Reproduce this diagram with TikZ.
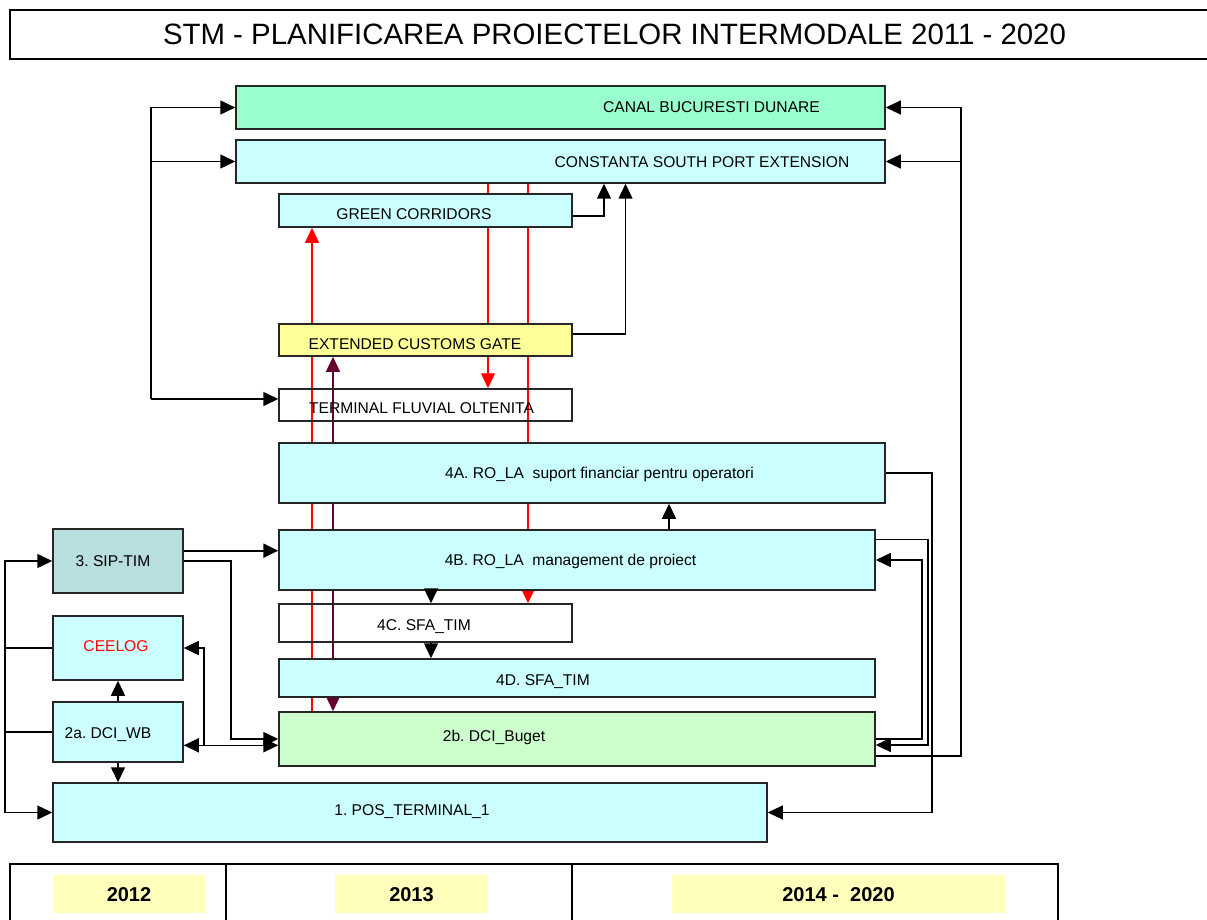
\documentclass[tikz,border=0pt]{standalone}
\usepackage{fontspec}
\setmainfont{Liberation Sans}
\usetikzlibrary{positioning}
\usetikzlibrary{arrows.meta}
\usetikzlibrary{backgrounds}

\definecolor{mint}{HTML}{99FFCC}
\definecolor{pale}{HTML}{CCFFFF}
\definecolor{lemon}{HTML}{FFFF99}
\definecolor{slate}{HTML}{B9DEE0}
\definecolor{leaf}{HTML}{CCFFCC}
\definecolor{cream}{HTML}{FFFFBB}
\definecolor{plum}{HTML}{660033}
\frenchspacing

\begin{document}
\begin{tikzpicture}
  [x = 1pt, y = -1pt,
   box/.style = {draw = black!85, line width = 1.5pt, inner sep = 0pt},
   txt/.style = {inner sep = 0pt, text height = 11pt, text depth = 0pt,
                 font = \fontsize{15.6pt}{18pt}\selectfont},
   year/.style = {fill = cream, inner sep = 0pt, minimum height = 38pt,
                  text height = 14.3pt, text depth = 0pt,
                  font = \bfseries\fontsize{20pt}{24pt}\selectfont},
   head/.style = {Triangle[length = 15pt, width = 14pt]},
   arr/.style = {-{Triangle[length = 15pt, width = 14pt]}},
   arr2/.style = {{Triangle[length = 15pt, width = 14pt]}-{Triangle[length = 15pt, width = 14pt]}},
   link/.style = {arr, line width = 1.5pt},
   thin link/.style = {arr, line width = 1.1pt},
   red link/.style = {arr, red, line width = 1.3pt},
   plum link/.style = {arr2, plum, line width = 1.3pt}]
  \useasboundingbox (0, 0) rectangle (1207, 920);

  % title
  \draw [line width = 2pt] (1215, 10) -- (10, 10) -- (10, 59) -- (1215, 59);
  \node [inner sep = 0pt, text height = 21pt, text depth = 0pt,
         font = \fontsize{29.4pt}{35pt}\selectfont] (title) at (614.5, 34)
        {STM - PLANIFICAREA PROIECTELOR INTERMODALE 2011 - 2020};

  % projects
  \node [box, fill = mint, minimum width = 649pt, minimum height = 43pt] (canal) at (560.5, 107.5) {};
  \node [box, fill = pale, minimum width = 649pt, minimum height = 43pt] (constanta) at (560.5, 161.5) {};
  \node [box, fill = pale, minimum width = 293pt, minimum height = 33pt] (green) at (425.5, 210.5) {};
  \node [box, fill = lemon, minimum width = 293pt, minimum height = 32pt] (customs) at (425.5, 340) {};
  \node [box, minimum width = 293pt, minimum height = 32pt] (oltenita) at (425.5, 405) {};
  \node [box, fill = pale, minimum width = 606pt, minimum height = 60pt] (rolaA) at (582, 473) {};
  \node [box, fill = pale, minimum width = 596pt, minimum height = 60pt] (rolaB) at (577, 560) {};
  \node [box, minimum width = 293pt, minimum height = 38pt] (sfaC) at (425.5, 623) {};
  \node [box, fill = pale, minimum width = 596pt, minimum height = 38pt] (sfaD) at (577, 678) {};
  \node [box, fill = leaf, minimum width = 596pt, minimum height = 54pt] (buget) at (577, 739) {};
  \node [box, fill = slate, minimum width = 130pt, minimum height = 64pt] (sip) at (118, 561) {};
  \node [box, fill = pale, minimum width = 130pt, minimum height = 64pt] (ceelog) at (118, 648) {};
  \node [box, fill = pale, minimum width = 130pt, minimum height = 60pt] (dciwb) at (118, 732) {};
  \node [box, fill = pale, minimum width = 714pt, minimum height = 59pt] (pos) at (410, 812.5) {};

  \node [txt] (canaltxt) at (711.5, 107) {CANAL BUCURESTI DUNARE};
  \node [txt] (constantatxt) at (702, 162) {CONSTANTA SOUTH PORT EXTENSION};
  \node [txt] (greentxt) at (414, 214) {GREEN CORRIDORS};
  \node [txt] (customstxt) at (415, 344) {EXTENDED CUSTOMS GATE};
  \node [txt] (oltenitatxt) at (421.5, 408) {TERMINAL FLUVIAL OLTENITA};
  \node [txt] (rolaAtxt) at (599.5, 473) {4A. RO\_LA\ \ suport financiar pentru operatori};
  \node [txt] (rolaBtxt) at (570.5, 560) {4B. RO\_LA\ \ management de proiect};
  \node [txt] (sfaCtxt) at (424, 625) {4C. SFA\_TIM};
  \node [txt] (sfaDtxt) at (543, 680) {4D. SFA\_TIM};
  \node [txt] (bugettxt) at (494, 736) {2b. DCI\_Buget};
  \node [txt] (postxt) at (412, 810) {1. POS\_TERMINAL\_1};
  \node [txt] (siptxt) at (113, 561) {3. SIP-TIM};
  \node [txt, red] (ceelogtxt) at (116, 646) {CEELOG};
  \node [txt] (dciwbtxt) at (108, 733) {2a. DCI\_WB};

  % guide columns
  \coordinate (r1) at (312, 0);
  \coordinate (p1) at (333, 0);
  \coordinate (r2) at (488, 0);
  \coordinate (r3) at (528, 0);
  \coordinate (c1) at (431, 0);
  \coordinate (c2) at (669, 0);
  \coordinate (c3) at (932, 0);
  \coordinate (c5) at (922, 0);
  \coordinate (c6) at (231, 0);
  \coordinate (g1) at (604, 0);
  \coordinate (g2) at (625.5, 0);
  \coordinate (lb2) at (5, 0);
  \coordinate (lb) at (151, 399);
  \coordinate (rb) at (961, 756);
  \coordinate (k1) at (928, 745);
  \coordinate (j1) at (204, 745.3);

  % red and plum lines behind the boxes
  \begin{scope}[on background layer]
    \draw [red link] (r1 |- buget.north) -- (r1 |- green.south);
    \draw [red link] (r2 |- constanta.south) -- (r2 |- oltenita.north);
    \draw [red link] (r3 |- constanta.south) -- (r3 |- sfaC.north);
    \draw [plum link] (p1 |- buget.north) -- (p1 |- customs.south);
  \end{scope}

  % top
  \draw [link] (lb) |- (canal.west);
  \draw [link] (lb |- constanta.west) -- (constanta.west);
  \draw [link] (lb) -- (lb -| oltenita.west);
  \draw [link] ([yshift = -5.5pt]green.east) -| (g1 |- constanta.south);
  \draw [link] ([yshift = 6pt]customs.east) -| (g2 |- constanta.south);
  \draw [thin link] (rb -| buget.east) -- (rb) |- (canal.east);
  \draw [thin link] (rb |- constanta.east) -- (constanta.east);

  % middle
  \draw [link] (c2 |- rolaB.north) -- (c2 |- rolaA.south);
  \draw [link] (c1 |- rolaB.south) -- (c1 |- sfaC.north);
  \draw [link] (c1 |- sfaC.south) -- (c1 |- sfaD.north);
  \draw [thin link] (rolaA.east) -| (c3 |- pos.east) -- (pos.east);
  \draw [thin link] ([yshift = 20.7pt]rolaB.east) -| (k1) -- (k1 -| buget.east);
  \draw [thin link] (buget.east) -| (c5 |- rolaB.east) -- (rolaB.east);

  % left
  \draw [arr, line width = 2.3pt] ([yshift = 10.3pt]sip.east) -- ([yshift = 9.3pt]rolaB.west);
  \draw [link] (sip.east) -| (c6 |- buget.west) -- (buget.west);
  \draw [link, arr2] ([yshift = -13.3pt]dciwb.east) -- ([yshift = -6.3pt]buget.west);
  \draw [link] (j1) |- (ceelog.east);
  \draw [link] (dciwb.north) -- (ceelog.south);
  \draw [link] (dciwb.south) -- (dciwb.south |- pos.north);
  \draw [link] (ceelog.west) -| (lb2 |- pos.west) -- (pos.west);
  \draw [link] (dciwb.west) -| (lb2 |- sip.west) -- (sip.west);

  % years
  \draw [line width = 2pt] (9, 864) -- (1059, 864);
  \foreach \x in {10, 226, 572, 1058}
    \draw [line width = 1.5pt] (\x, 864) -- (\x, 925);
  \node [year, minimum width = 152pt] (y2012) at (129, 894) {2012};
  \node [year, minimum width = 153pt] (y2013) at (411.5, 894) {2013};
  \node [year, minimum width = 333pt] (y2014) at (838.5, 894) {2014 -\ \ 2020};
\end{tikzpicture}
\end{document}
